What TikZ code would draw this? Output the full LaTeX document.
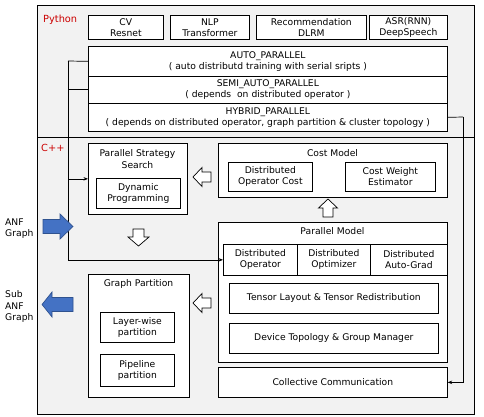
\documentclass[tikz,border=0pt]{standalone}
\usepackage{fontspec}
\setmainfont{DejaVu Sans}
\usetikzlibrary{arrows.meta}
\definecolor{bggray}{RGB}{242,242,242}
\definecolor{lblred}{RGB}{204,0,0}
\definecolor{bluefill}{RGB}{68,114,196}
\definecolor{blueline}{RGB}{47,82,143}
\begin{document}
\begin{tikzpicture}[x=1pt,y=-1pt,
  font=\fontsize{9.2}{11.2}\selectfont,
  bx/.style={draw=black, fill=white, line width=0.7pt, inner sep=0pt, align=center, anchor=north west},
  ttl/.style={inner sep=0pt, align=center},
  conn/.style={draw=black, line width=0.7pt},
  tip/.style={-{Stealth[length=4.5pt,width=3.5pt]}},
  hollow/.style={draw=black, fill=white, line width=0.7pt, line join=miter},
  blue/.style={draw=blueline, fill=bluefill, line width=0.7pt, line join=miter},
  redlbl/.style={text=lblred, inner sep=0pt, anchor=west, font=\fontsize{9.8}{11}\selectfont}]
\useasboundingbox (0,0) rectangle (484,417);
% outer frame
\draw[fill=bggray, line width=0.7pt] (37,5) rectangle (474,414);
\draw[line width=0.7pt] (37,137) -- (474,137);
\node[redlbl] (py) at (43,20) {Python};
\node[redlbl] (cpp) at (41,147.5) {C++};
% python boxes
\node[bx, minimum width=75pt, minimum height=24pt] (cv) at (88,15) {CV\\Resnet};
\node[bx, minimum width=79pt, minimum height=24pt] (nlp) at (170,15) {NLP\\Transformer};
\node[bx, minimum width=110pt, minimum height=24pt] (rec) at (256,15) {Recommendation\\DLRM};
\node[bx, minimum width=78pt, minimum height=24pt] (asr) at (369,15) {ASR(RNN)\\DeepSpeech};
\node[bx, minimum width=359pt, minimum height=30pt] (auto) at (88,46) {AUTO\_PARALLEL\\( auto distributd training with serial sripts )};
\node[bx, minimum width=359pt, minimum height=27pt] (semi) at (88,76) {SEMI\_AUTO\_PARALLEL\\( depends\ \ on distributed operator )};
\node[bx, minimum width=359pt, minimum height=28pt] (hyb) at (88,103) {HYBRID\_PARALLEL\\( depends on distributed operator, graph partition \& cluster topology )};
% C++ boxes
\node[bx, minimum width=99pt, minimum height=71pt] (pss) at (88,143) {};
\node[ttl] (psst) at (137.5,159) {Parallel Strategy\\Search};
\node[bx, minimum width=84pt, minimum height=30pt] (dp) at (96,178) {Dynamic\\Programming};
\node[bx, minimum width=229pt, minimum height=54pt] (cost) at (218,143) {};
\node[ttl] (costt) at (332.5,153) {Cost Model};
\node[bx, minimum width=84pt, minimum height=29pt] (doc) at (228,162) {Distributed\\Operator Cost};
\node[bx, minimum width=90pt, minimum height=29pt] (cwe) at (345,162) {Cost Weight\\Estimator};
\node[bx, minimum width=229pt, minimum height=140pt] (pm) at (218,222) {};
\node[ttl] (pmt) at (332.5,231) {Parallel Model};
\node[bx, minimum width=74pt, minimum height=31pt] (do) at (223,244) {Distributed\\Operator};
\node[bx, minimum width=73pt, minimum height=31pt] (dopt) at (297,244) {Distributed\\Optimizer};
\node[bx, minimum width=77pt, minimum height=31pt] (dag) at (370,244) {Distributed\\Auto-Grad};
\node[bx, minimum width=209pt, minimum height=30pt] (tl) at (229,283) {Tensor Layout \& Tensor Redistribution};
\node[bx, minimum width=209pt, minimum height=30pt] (dt) at (229,323) {Device Topology \& Group Manager};
\node[bx, minimum width=229pt, minimum height=30pt] (cc) at (218,367) {Collective Communication};
\node[bx, minimum width=101pt, minimum height=123pt] (gp) at (88,274) {};
\node[ttl] (gpt) at (138.5,284) {Graph Partition};
\node[bx, minimum width=74pt, minimum height=30pt] (lw) at (100,312) {Layer-wise\\partition};
\node[bx, minimum width=74pt, minimum height=32pt] (pp) at (100,354) {Pipeline\\partition};
% connectors
\coordinate (lx) at (68,61);
\coordinate (rx) at (463,117);
\draw[conn] (auto.west) -- (lx);
\draw[conn] (semi.west) -- (semi.west -| lx);
\draw[conn, tip] (lx) |- (pss.west);
\draw[conn, tip] (pss.west -| lx) |- (do.west);
\draw[conn] (hyb.east) -- (rx);
\draw[conn, tip] (rx) |- (cc.east);
% hollow arrows
\draw[hollow] (193,177) -- (202,167.5) -- (202,172) -- (211,172) -- (211,182) -- (202,182) -- (202,186.5) -- cycle;
\draw[hollow] (193,303) -- (202,293.5) -- (202,298) -- (211,298) -- (211,308) -- (202,308) -- (202,312.5) -- cycle;
\draw[hollow] (328,199) -- (337.5,208) -- (333,208) -- (333,217) -- (323,217) -- (323,208) -- (318.5,208) -- cycle;
\draw[hollow] (138.5,246) -- (149,237) -- (144,237) -- (144,229) -- (133,229) -- (133,237) -- (128,237) -- cycle;
% blue arrows
\draw[blue] (73,226.5) -- (60,239) -- (60,233.5) -- (43,233.5) -- (43,219.5) -- (60,219.5) -- (60,214) -- cycle;
\draw[blue] (42,304.5) -- (52,292) -- (52,297.5) -- (73,297.5) -- (73,311.5) -- (52,311.5) -- (52,317) -- cycle;
\node[inner sep=0pt, align=left, anchor=west] (anf) at (5,229) {ANF\\Graph};
\node[inner sep=0pt, align=left, anchor=west] (sub) at (5,306.5) {Sub\\ANF\\Graph};
\end{tikzpicture}
\end{document}
